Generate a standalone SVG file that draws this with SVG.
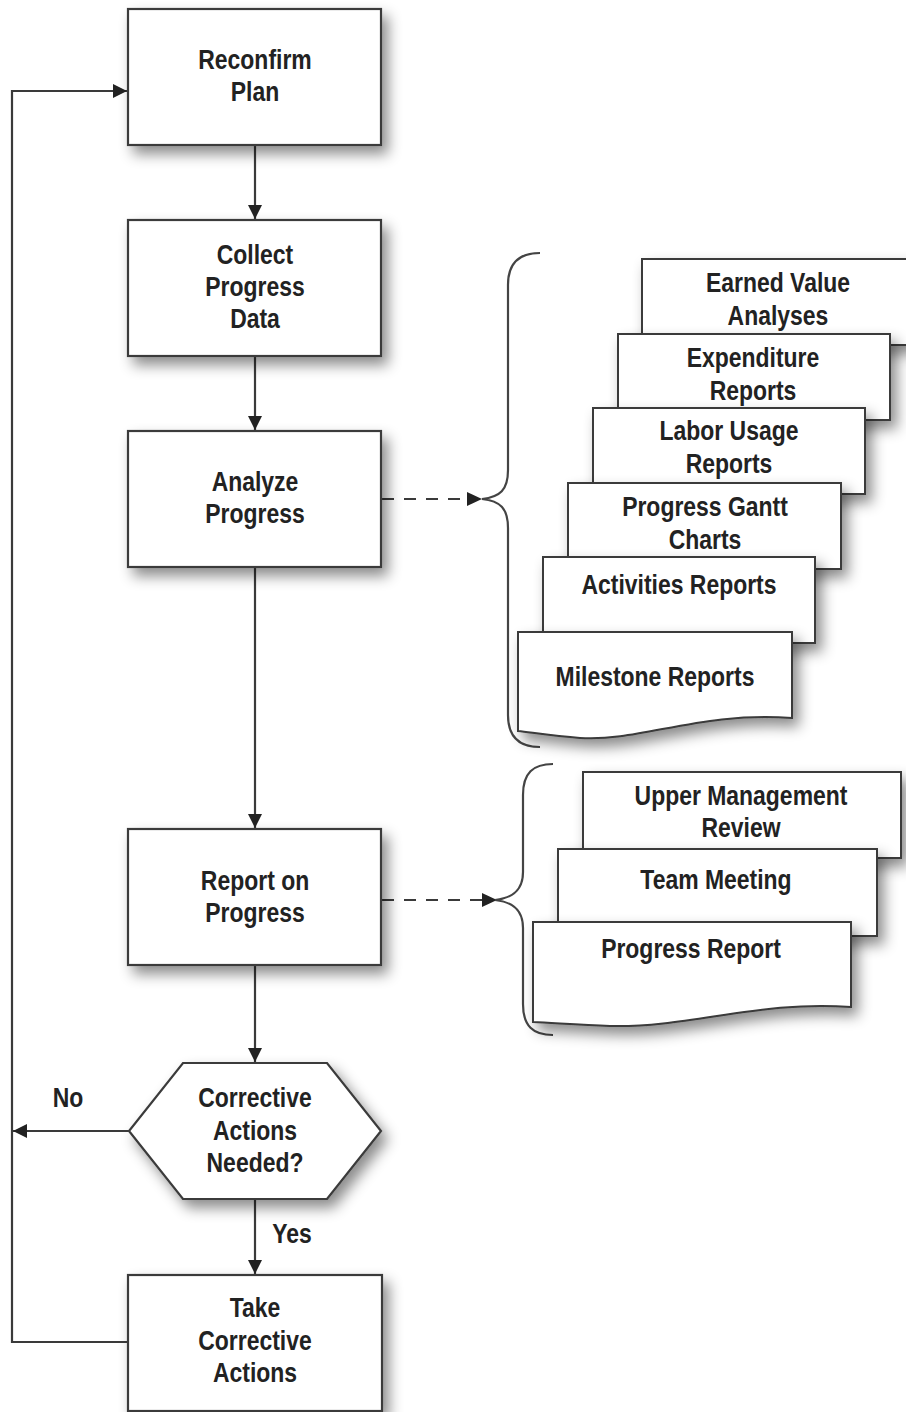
<svg xmlns="http://www.w3.org/2000/svg" width="906" height="1412" viewBox="0 0 906 1412">
<style>
.box{fill:#fff;stroke:#3a3a3a;stroke-width:2.2}
.doc{fill:#fff;stroke:#3a3a3a;stroke-width:2}
.t{font-family:"Liberation Sans",Arial,sans-serif;font-weight:bold;font-size:27px;fill:#222;text-anchor:middle}
.ln{fill:none;stroke:#3a3a3a;stroke-width:2.2}
.dash{fill:none;stroke:#3a3a3a;stroke-width:2.2;stroke-dasharray:12 10}
.brace{fill:none;stroke:#444;stroke-width:2.2}
</style>
<defs>
<filter id="sh" x="-20%" y="-20%" width="150%" height="160%">
<feDropShadow dx="6" dy="8" stdDeviation="7" flood-color="#000" flood-opacity="0.45"/>
</filter>
<marker id="ah" viewBox="0 0 14 14" refX="14" refY="7" markerWidth="14" markerHeight="14" markerUnits="userSpaceOnUse" orient="auto">
<path d="M0,0 L14,7 L0,14 Z" fill="#222"/>
</marker>
</defs>
<rect width="906" height="1412" fill="#fff"/>

<g id="connectors">
<line class="ln" x1="255" y1="145" x2="255" y2="219" marker-end="url(#ah)"/>
<line class="ln" x1="255" y1="356" x2="255" y2="430" marker-end="url(#ah)"/>
<line class="ln" x1="255" y1="567" x2="255" y2="828" marker-end="url(#ah)"/>
<line class="ln" x1="255" y1="965" x2="255" y2="1062" marker-end="url(#ah)"/>
<line class="ln" x1="255" y1="1199" x2="255" y2="1274" marker-end="url(#ah)"/>
<polyline class="ln" points="128,1342 12,1342 12,91 127,91" marker-end="url(#ah)"/>
<line class="ln" x1="129" y1="1131" x2="13" y2="1131" marker-end="url(#ah)"/>
<line class="dash" x1="382" y1="499" x2="468" y2="499"/>
<path d="M467,492 L482,499 L467,506 Z" fill="#222"/>
<line class="dash" x1="382" y1="900" x2="482" y2="900"/>
<path d="M482,893 L497,900 L482,907 Z" fill="#222"/>
<text class="t" transform="matrix(0.85 0 0 1 68 0)" x="0" y="1107">No</text>
<text class="t" transform="matrix(0.85 0 0 1 292 0)" x="0" y="1243">Yes</text>
</g>

<g id="brace1">
<path class="brace" d="M540,253 C520,253 508,262 508,285 L508,470 C508,490 500,497 482,499 C500,501 508,508 508,528 L508,715 C508,738 520,747 540,747"/>
</g>
<g id="brace2">
<path class="brace" d="M553,764 C533,764 523,773 523,795 L523,872 C523,890 513,898 495,900 C513,902 523,910 523,928 L523,1004 C523,1026 533,1035 553,1035"/>
</g>

<g id="reconfirm">
<rect class="box" x="128" y="9" width="253" height="136" filter="url(#sh)"/>
<text class="t" transform="matrix(0.85 0 0 1 255 0)" x="0" y="69">Reconfirm</text>
<text class="t" transform="matrix(0.85 0 0 1 255 0)" x="0" y="101">Plan</text>
</g>
<g id="collect">
<rect class="box" x="128" y="220" width="253" height="136" filter="url(#sh)"/>
<text class="t" transform="matrix(0.85 0 0 1 255 0)" x="0" y="264">Collect</text>
<text class="t" transform="matrix(0.85 0 0 1 255 0)" x="0" y="296">Progress</text>
<text class="t" transform="matrix(0.85 0 0 1 255 0)" x="0" y="328">Data</text>
</g>
<g id="analyze">
<rect class="box" x="128" y="431" width="253" height="136" filter="url(#sh)"/>
<text class="t" transform="matrix(0.85 0 0 1 255 0)" x="0" y="491">Analyze</text>
<text class="t" transform="matrix(0.85 0 0 1 255 0)" x="0" y="523">Progress</text>
</g>
<g id="report">
<rect class="box" x="128" y="829" width="253" height="136" filter="url(#sh)"/>
<text class="t" transform="matrix(0.85 0 0 1 255 0)" x="0" y="890">Report on</text>
<text class="t" transform="matrix(0.85 0 0 1 255 0)" x="0" y="922">Progress</text>
</g>
<g id="decision">
<polygon class="box" points="183,1063 327,1063 381,1131 327,1199 183,1199 129,1131" filter="url(#sh)"/>
<text class="t" transform="matrix(0.85 0 0 1 255 0)" x="0" y="1107">Corrective</text>
<text class="t" transform="matrix(0.85 0 0 1 255 0)" x="0" y="1140">Actions</text>
<text class="t" transform="matrix(0.85 0 0 1 255 0)" x="0" y="1172">Needed?</text>
</g>
<g id="take">
<rect class="box" x="128" y="1275" width="254" height="136" filter="url(#sh)"/>
<text class="t" transform="matrix(0.85 0 0 1 255 0)" x="0" y="1317">Take</text>
<text class="t" transform="matrix(0.85 0 0 1 255 0)" x="0" y="1350">Corrective</text>
<text class="t" transform="matrix(0.85 0 0 1 255 0)" x="0" y="1382">Actions</text>
</g>

<g id="earned">
<rect class="doc" x="642" y="259" width="280" height="86" filter="url(#sh)"/>
<text class="t" transform="matrix(0.85 0 0 1 778 0)" x="0" y="292">Earned Value</text>
<text class="t" transform="matrix(0.85 0 0 1 778 0)" x="0" y="325">Analyses</text>
</g>
<g id="expenditure">
<rect class="doc" x="618" y="334" width="272" height="86" filter="url(#sh)"/>
<text class="t" transform="matrix(0.85 0 0 1 753 0)" x="0" y="367">Expenditure</text>
<text class="t" transform="matrix(0.85 0 0 1 753 0)" x="0" y="400">Reports</text>
</g>
<g id="labor">
<rect class="doc" x="593" y="408" width="272" height="86" filter="url(#sh)"/>
<text class="t" transform="matrix(0.85 0 0 1 729 0)" x="0" y="440">Labor Usage</text>
<text class="t" transform="matrix(0.85 0 0 1 729 0)" x="0" y="473">Reports</text>
</g>
<g id="gantt">
<rect class="doc" x="568" y="483" width="273" height="86" filter="url(#sh)"/>
<text class="t" transform="matrix(0.85 0 0 1 705 0)" x="0" y="516">Progress Gantt</text>
<text class="t" transform="matrix(0.85 0 0 1 705 0)" x="0" y="549">Charts</text>
</g>
<g id="activities">
<rect class="doc" x="543" y="557" width="272" height="86" filter="url(#sh)"/>
<text class="t" transform="matrix(0.85 0 0 1 679 0)" x="0" y="594">Activities Reports</text>
</g>
<g id="milestone">
<path class="doc" d="M518,632 H792 V718 C700,711 640,742 580,738 C555,736 535,733 518,731 Z" filter="url(#sh)"/>
<text class="t" transform="matrix(0.85 0 0 1 655 0)" x="0" y="686">Milestone Reports</text>
</g>

<g id="upper">
<rect class="doc" x="583" y="772" width="318" height="86" filter="url(#sh)"/>
<text class="t" transform="matrix(0.85 0 0 1 741 0)" x="0" y="805">Upper Management</text>
<text class="t" transform="matrix(0.85 0 0 1 741 0)" x="0" y="837">Review</text>
</g>
<g id="team">
<rect class="doc" x="558" y="849" width="319" height="87" filter="url(#sh)"/>
<text class="t" transform="matrix(0.85 0 0 1 716 0)" x="0" y="889">Team Meeting</text>
</g>
<g id="progressreport">
<path class="doc" d="M533,922 H851 V1007 C760,1000 690,1028 610,1026 C580,1025 555,1023 533,1022 Z" filter="url(#sh)"/>
<text class="t" transform="matrix(0.85 0 0 1 691 0)" x="0" y="958">Progress Report</text>
</g>
</svg>
